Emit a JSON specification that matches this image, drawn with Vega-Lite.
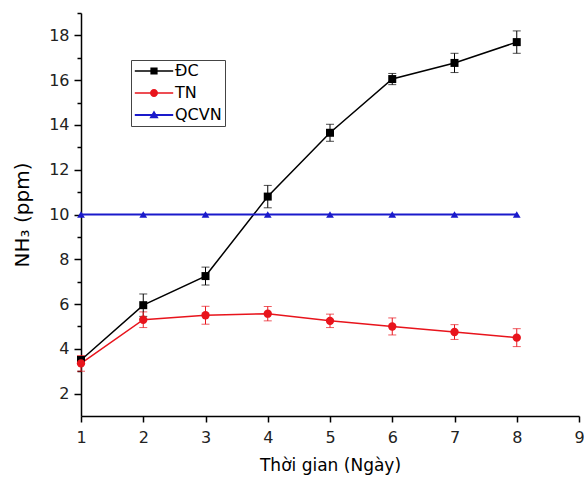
{
  "$schema": "https://vega.github.io/schema/vega-lite/v6.json",
  "width": 498,
  "height": 403,
  "autosize": "none",
  "padding": {"left": 81, "top": 13, "right": 5, "bottom": 61},
  "background": "white",
  "data": {
    "values": [
      {"day": 1, "series": "ĐC", "value": 3.5, "lo": 3.35, "hi": 3.65},
      {"day": 2, "series": "ĐC", "value": 5.95, "lo": 5.45, "hi": 6.45},
      {"day": 3, "series": "ĐC", "value": 7.25, "lo": 6.85, "hi": 7.65},
      {"day": 4, "series": "ĐC", "value": 10.8, "lo": 10.3, "hi": 11.3},
      {"day": 5, "series": "ĐC", "value": 13.65, "lo": 13.27, "hi": 14.03},
      {"day": 6, "series": "ĐC", "value": 16.05, "lo": 15.8, "hi": 16.3},
      {"day": 7, "series": "ĐC", "value": 16.77, "lo": 16.34, "hi": 17.2},
      {"day": 8, "series": "ĐC", "value": 17.7, "lo": 17.2, "hi": 18.2},
      {"day": 1, "series": "TN", "value": 3.35, "lo": 3.0, "hi": 3.7},
      {"day": 2, "series": "TN", "value": 5.3, "lo": 4.95, "hi": 5.65},
      {"day": 3, "series": "TN", "value": 5.5, "lo": 5.1, "hi": 5.9},
      {"day": 4, "series": "TN", "value": 5.57, "lo": 5.25, "hi": 5.89},
      {"day": 5, "series": "TN", "value": 5.25, "lo": 4.95, "hi": 5.55},
      {"day": 6, "series": "TN", "value": 5.0, "lo": 4.62, "hi": 5.38},
      {"day": 7, "series": "TN", "value": 4.75, "lo": 4.42, "hi": 5.08},
      {"day": 8, "series": "TN", "value": 4.5, "lo": 4.1, "hi": 4.9},
      {"day": 1, "series": "QCVN", "value": 10},
      {"day": 2, "series": "QCVN", "value": 10},
      {"day": 3, "series": "QCVN", "value": 10},
      {"day": 4, "series": "QCVN", "value": 10},
      {"day": 5, "series": "QCVN", "value": 10},
      {"day": 6, "series": "QCVN", "value": 10},
      {"day": 7, "series": "QCVN", "value": 10},
      {"day": 8, "series": "QCVN", "value": 10}
    ]
  },
  "encoding": {
    "x": {
      "field": "day",
      "type": "quantitative",
      "title": "Thời gian (Ngày)",
      "scale": {"domain": [1, 9], "nice": false, "zero": false},
      "axis": {
        "values": [1, 1.5, 2, 2.5, 3, 3.5, 4, 4.5, 5, 5.5, 6, 6.5, 7, 7.5, 8, 8.5, 9],
        "format": "d",
        "labelFlush": false,
        "labelExpr": "datum.value % 1 === 0 ? datum.label : ''",
        "tickSize": {"condition": {"test": "datum.value % 1 !== 0", "value": 3}, "value": 6},
        "labelPadding": 7,
        "titlePadding": 12,
        "titleFontSize": 17
      }
    },
    "y": {
      "field": "value",
      "type": "quantitative",
      "title": "NH₃ (ppm)",
      "scale": {"domain": [1, 19], "nice": false, "zero": false},
      "axis": {
        "values": [2, 3, 4, 5, 6, 7, 8, 9, 10, 11, 12, 13, 14, 15, 16, 17, 18, 19],
        "labelExpr": "datum.value % 2 === 0 ? datum.label : ''",
        "tickSize": {"condition": {"test": "datum.value % 2 !== 0", "value": 4}, "value": 7},
        "labelPadding": 5,
        "titlePadding": 16,
        "titleFontSize": 20
      }
    }
  },
  "layer": [
    {
      "mark": {"type": "point", "filled": true, "opacity": 0},
      "encoding": {
        "color": {"field": "series", "type": "nominal", "title": null,
          "scale": {"domain": ["ĐC", "TN", "QCVN"], "range": ["#000000", "#e8141c", "#1a1acb"]}},
        "shape": {"field": "series", "type": "nominal", "title": null,
          "scale": {"domain": ["ĐC", "TN", "QCVN"], "range": [
            "M-2.4,-0.09 L2.4,-0.09 L2.4,0.09 L-2.4,0.09 Z M-0.45,-0.45 L0.45,-0.45 L0.45,0.45 L-0.45,0.45 Z",
            "M-2.4,-0.09 L2.4,-0.09 L2.4,0.09 L-2.4,0.09 Z M-0.5,0 A0.5,0.5 0 1,1 0.5,0 A0.5,0.5 0 1,1 -0.5,0 Z",
            "M-2.4,-0.12 L2.4,-0.12 L2.4,0.12 L-2.4,0.12 Z M0,-0.55 L0.58,0.42 L-0.58,0.42 Z"
          ]}}
      }
    },
    {
      "transform": [{"filter": "datum.series !== 'QCVN'"}],
      "mark": {"type": "errorbar", "ticks": {"size": 8}, "thickness": 1},
      "encoding": {
        "y": {
          "field": "lo",
          "type": "quantitative",
          "title": "NH₃ (ppm)",
          "scale": {"domain": [1, 19], "nice": false, "zero": false},
          "axis": {
            "values": [2, 3, 4, 5, 6, 7, 8, 9, 10, 11, 12, 13, 14, 15, 16, 17, 18, 19],
            "labelExpr": "datum.value % 2 === 0 ? datum.label : ''",
            "tickSize": {"condition": {"test": "datum.value % 2 !== 0", "value": 4}, "value": 7},
            "labelPadding": 5,
            "titlePadding": 16,
            "titleFontSize": 20
          }
        },
        "y2": {"field": "hi"},
        "color": {"field": "series", "type": "nominal"}
      }
    },
    {
      "transform": [{"filter": "datum.series !== 'QCVN'"}],
      "mark": {"type": "line", "strokeWidth": 1.5},
      "encoding": {
        "color": {"field": "series", "type": "nominal"},
        "detail": {"field": "series"}
      }
    },
    {
      "transform": [{"filter": "datum.series === 'QCVN'"}],
      "mark": {"type": "line", "strokeWidth": 2},
      "encoding": {
        "color": {"field": "series", "type": "nominal"}
      }
    },
    {
      "transform": [{"filter": "datum.series === 'ĐC'"}],
      "mark": {"type": "point", "shape": "square", "filled": true, "size": 64, "opacity": 1},
      "encoding": {"color": {"field": "series", "type": "nominal"}}
    },
    {
      "transform": [{"filter": "datum.series === 'TN'"}],
      "mark": {"type": "point", "shape": "circle", "filled": true, "size": 70, "opacity": 1},
      "encoding": {"color": {"field": "series", "type": "nominal"}}
    },
    {
      "transform": [{"filter": "datum.series === 'QCVN'"}],
      "mark": {"type": "point", "shape": "triangle-up", "filled": true, "size": 60, "opacity": 1},
      "encoding": {"color": {"field": "series", "type": "nominal"}}
    }
  ],
  "config": {
    "view": {"stroke": null},
    "axis": {
      "grid": false,
      "domainColor": "#000",
      "domainWidth": 1.5,
      "tickColor": "#000",
      "tickWidth": 1.5,
      "labelFont": "DejaVu Sans",
      "labelFontSize": 16,
      "labelColor": "#222",
      "titleFont": "DejaVu Sans",
      "titleFontWeight": "normal",
      "titleColor": "#000"
    },
    "legend": {
      "orient": "none",
      "legendX": 50,
      "legendY": 47,
      "strokeColor": "#444",
      "strokeWidth": 1,
      "padding": 3,
      "labelFont": "DejaVu Sans",
      "labelFontSize": 16,
      "labelColor": "#000",
      "symbolSize": 256,
      "symbolOffset": 12,
      "labelOffset": 13,
      "rowPadding": 6,
      "symbolOpacity": 1,
      "symbolStrokeWidth": 0
    }
  }
}
